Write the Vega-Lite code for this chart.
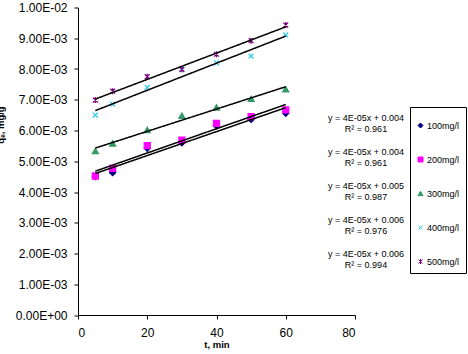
{
  "$schema": "https://vega.github.io/schema/vega-lite/v6.json",
  "width": 277,
  "height": 307.5,
  "autosize": "none",
  "padding": {"left": 78, "top": 7.5, "right": 113, "bottom": 39},
  "config": {
    "view": {"stroke": null},
    "font": "Liberation Sans",
    "axis": {
      "domainColor": "black",
      "tickColor": "black",
      "labelColor": "black",
      "titleColor": "black",
      "grid": false,
      "labelFont": "Liberation Sans",
      "titleFont": "Liberation Sans",
      "labelFontSize": 12,
      "tickSize": 4
    }
  },
  "data": {
    "values": [
      {"series": "100mg/l", "t": 5, "q": 0.00450},
      {"series": "100mg/l", "t": 10, "q": 0.00463},
      {"series": "100mg/l", "t": 20, "q": 0.00542},
      {"series": "100mg/l", "t": 30, "q": 0.00560},
      {"series": "100mg/l", "t": 40, "q": 0.00615},
      {"series": "100mg/l", "t": 50, "q": 0.00636},
      {"series": "100mg/l", "t": 60, "q": 0.00656},
      {"series": "200mg/l", "t": 5, "q": 0.00452},
      {"series": "200mg/l", "t": 10, "q": 0.00477},
      {"series": "200mg/l", "t": 20, "q": 0.00551},
      {"series": "200mg/l", "t": 30, "q": 0.00569},
      {"series": "200mg/l", "t": 40, "q": 0.00623},
      {"series": "200mg/l", "t": 50, "q": 0.00645},
      {"series": "200mg/l", "t": 60, "q": 0.00667},
      {"series": "300mg/l", "t": 5, "q": 0.00533},
      {"series": "300mg/l", "t": 10, "q": 0.00558},
      {"series": "300mg/l", "t": 20, "q": 0.00602},
      {"series": "300mg/l", "t": 30, "q": 0.00648},
      {"series": "300mg/l", "t": 40, "q": 0.00675},
      {"series": "300mg/l", "t": 50, "q": 0.00703},
      {"series": "300mg/l", "t": 60, "q": 0.00734},
      {"series": "400mg/l", "t": 5, "q": 0.00650},
      {"series": "400mg/l", "t": 10, "q": 0.00686},
      {"series": "400mg/l", "t": 20, "q": 0.00740},
      {"series": "400mg/l", "t": 30, "q": 0.00797},
      {"series": "400mg/l", "t": 40, "q": 0.00820},
      {"series": "400mg/l", "t": 50, "q": 0.00842},
      {"series": "400mg/l", "t": 60, "q": 0.00911},
      {"series": "500mg/l", "t": 5, "q": 0.00699},
      {"series": "500mg/l", "t": 10, "q": 0.00728},
      {"series": "500mg/l", "t": 20, "q": 0.00775},
      {"series": "500mg/l", "t": 30, "q": 0.00799},
      {"series": "500mg/l", "t": 40, "q": 0.00848},
      {"series": "500mg/l", "t": 50, "q": 0.00892},
      {"series": "500mg/l", "t": 60, "q": 0.00943}
    ]
  },
  "encoding": {
    "x": {
      "field": "t",
      "type": "quantitative",
      "scale": {"domain": [0, 80], "nice": false},
      "axis": {
        "values": [0, 20, 40, 60, 80],
        "title": "t, min",
        "titleFontSize": 9.5,
        "titleFontWeight": "bold",
        "titlePadding": 1,
        "labelPadding": 8
      }
    },
    "y": {
      "field": "q",
      "type": "quantitative",
      "scale": {"domain": [0, 0.01], "nice": false, "zero": true},
      "axis": {
        "values": [0, 0.001, 0.002, 0.003, 0.004, 0.005, 0.006, 0.007, 0.008, 0.009, 0.01],
        "labelExpr": "datum.value == 0 ? '0.00E+00' : replace(format(datum.value, '.2e'), 'e-', 'E-0')",
        "labelPadding": 7,
        "title": "qₑ, mg/g",
        "titleFontSize": 9.5,
        "titleFontWeight": "bold",
        "titleAngle": -90,
        "titleBaseline": "bottom",
        "titleX": -73,
        "titleY": 117
      }
    }
  },
  "layer": [
    {
      "mark": {"type": "point", "filled": true, "size": 36, "opacity": 1, "strokeWidth": 1.3},
      "encoding": {
        "color": {
          "field": "series",
          "type": "nominal",
          "scale": {"range": ["#000080", "#FF00FF", "#339966", "#33CCEE", "#800080"]},
          "legend": {
            "orient": "none",
            "legendX": 332,
            "legendY": 99.5,
            "title": " ",
            "titleFontSize": 8,
            "titlePadding": 0,
            "strokeColor": "black",
            "fillColor": "white",
            "padding": 6,
            "rowPadding": 24,
            "labelFontSize": 9,
            "labelColor": "black",
            "labelOffset": 2,
            "symbolSize": 25,
            "symbolStrokeWidth": 1
          }
        },
        "stroke": {
          "field": "series",
          "type": "nominal",
          "scale": {"range": ["#000080", "#FF00FF", "#339966", "#33CCEE", "#800080"]},
          "legend": {
            "orient": "none",
            "legendX": 332,
            "legendY": 99.5,
            "title": " ",
            "titleFontSize": 8,
            "titlePadding": 0,
            "strokeColor": "black",
            "fillColor": "white",
            "padding": 6,
            "rowPadding": 24,
            "labelFontSize": 9,
            "labelColor": "black",
            "labelOffset": 2,
            "symbolSize": 25,
            "symbolStrokeWidth": 1
          }
        },
        "shape": {
          "field": "series",
          "type": "nominal",
          "scale": {
            "range": [
              "diamond",
              "square",
              "triangle-up",
              "M-0.8,-0.8L0.8,0.8M-0.8,0.8L0.8,-0.8",
              "M-0.8,-0.8L0.8,0.8M-0.8,0.8L0.8,-0.8M0,-1L0,1"
            ]
          },
          "legend": {
            "orient": "none",
            "legendX": 332,
            "legendY": 99.5,
            "title": " ",
            "titleFontSize": 8,
            "titlePadding": 0,
            "strokeColor": "black",
            "fillColor": "white",
            "padding": 6,
            "rowPadding": 24,
            "labelFontSize": 9,
            "labelColor": "black",
            "labelOffset": 2,
            "symbolSize": 25,
            "symbolStrokeWidth": 1
          }
        }
      }
    },
    {
      "transform": [{"regression": "q", "on": "t", "groupby": ["series"]}],
      "mark": {"type": "line", "color": "black", "strokeWidth": 1.5},
      "encoding": {
        "strokeDash": {
          "field": "series",
          "type": "nominal",
          "scale": {"range": [[1, 0], [1, 0], [1, 0], [1, 0], [1, 0]]},
          "legend": {
            "orient": "none",
            "legendX": 279,
            "legendY": 106,
            "title": null,
            "padding": 0,
            "rowPadding": 13,
            "symbolSize": 0,
            "symbolOpacity": 0,
            "symbolStrokeWidth": 0,
            "labelOffset": 0,
            "labelAlign": "center",
            "labelFontSize": 9,
            "labelColor": "black",
            "labelLimit": 0,
            "labelExpr": "datum.label == '100mg/l' ? ['y = 4E-05x + 0.004', 'R² = 0.961'] : datum.label == '200mg/l' ? ['y = 4E-05x + 0.004', 'R² = 0.961'] : datum.label == '300mg/l' ? ['y = 4E-05x + 0.005', 'R² = 0.987'] : datum.label == '400mg/l' ? ['y = 4E-05x + 0.006', 'R² = 0.976'] : ['y = 4E-05x + 0.006', 'R² = 0.994']"
          }
        }
      }
    }
  ]
}
